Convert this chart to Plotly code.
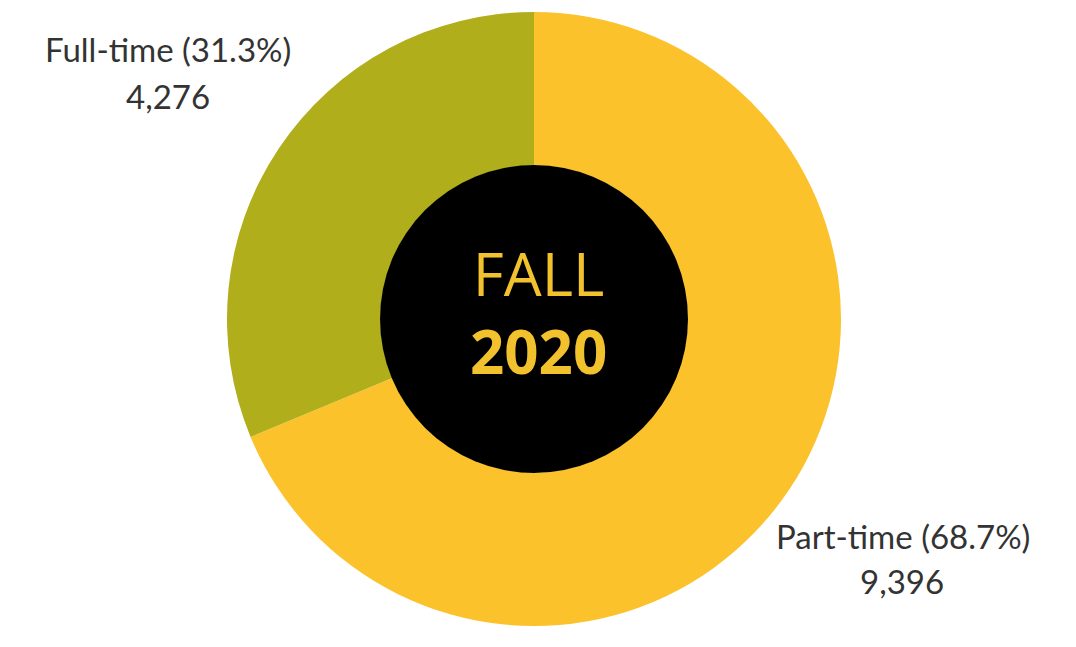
import plotly.graph_objects as go

categories = ["Part-time", "Full-time"]
values = [9396, 4276]
colors = ["#FCC22B", "#B1AE1C"]
center_lines = ["FALL", "2020"]

total = sum(values)
pcts = [v / total * 100 for v in values]

W, H = 1076, 647
CX, CY, R, RIN = 534, 319, 307, 154

fig = go.Figure()

fig.add_trace(go.Pie(
    labels=categories, values=values, sort=False, direction="clockwise", rotation=0,
    hole=0.5, marker=dict(colors=colors, line=dict(width=0)),
    textinfo="none", showlegend=False, hoverinfo="label+value+percent",
    domain=dict(x=[(CX - R) / W, (CX + R) / W],
                y=[1 - (CY + R) / H, 1 - (CY - R) / H]),
))

fig.add_trace(go.Pie(
    labels=["center"], values=[1], sort=False,
    marker=dict(colors=["#000000"], line=dict(width=0)),
    textinfo="none", showlegend=False, hoverinfo="skip",
    domain=dict(x=[(CX - RIN) / W, (CX + RIN) / W],
                y=[1 - (CY + RIN) / H, 1 - (CY - RIN) / H]),
))

label_font = dict(family="Lato, sans-serif", size=33, color="#333333")
annots = [
    (168, 49, f"{categories[1]} ({pcts[1]:.1f}%)"),
    (168, 96, f"{values[1]:,}"),
    (903, 536, f"{categories[0]} ({pcts[0]:.1f}%)"),
    (902, 581, f"{values[0]:,}"),
]
for x, y, t in annots:
    fig.add_annotation(x=x / W, y=1 - y / H, xref="paper", yref="paper", text=t,
                       showarrow=False, font=label_font,
                       xanchor="center", yanchor="middle")

fig.add_annotation(x=538 / W, y=1 - 312 / H, xref="paper", yref="paper",
                   text=f"{center_lines[0]}<br><b>{center_lines[1]}</b>", showarrow=False,
                   font=dict(family="Open Sans, sans-serif", size=60, color="#F2C12E"),
                   xanchor="center", yanchor="middle", align="center")

fig.update_layout(width=W, height=H, margin=dict(l=0, r=0, t=0, b=0),
                  paper_bgcolor="#FFFFFF", plot_bgcolor="#FFFFFF")

fig.write_html("out.html", config={"displayModeBar": False},
               post_script="document.body.style.margin='0';")
